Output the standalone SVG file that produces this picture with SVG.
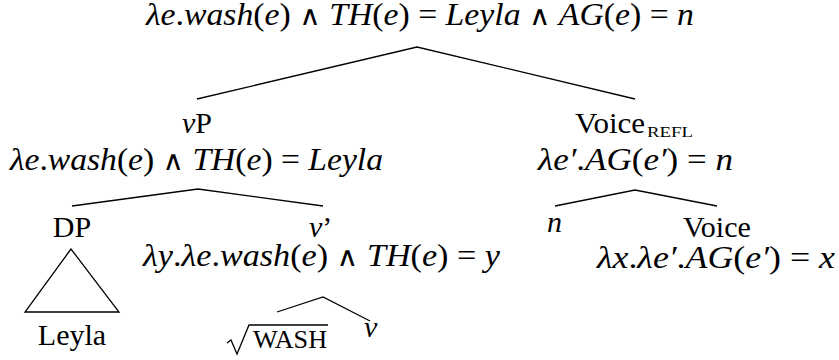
<svg xmlns="http://www.w3.org/2000/svg" width="839" height="360" viewBox="0 0 839 360">
<style>
.t{font-family:"Liberation Serif","Times New Roman",serif;font-size:30px;fill:#000}
.m{font-family:"Liberation Serif","Times New Roman",serif;font-size:31px;fill:#000}
.i{font-family:"Liberation Serif","Times New Roman",serif;font-style:italic}
.w{font-family:"DejaVu Serif",serif;font-size:27px}
.sc{font-size:15px}
.sc2{font-size:25px}
.e{stroke:#000;stroke-width:1.3;fill:none}
</style>
<rect width="839" height="360" fill="#fff"/>
<g id="root">
<text class="m" x="146" y="25" textLength="548" lengthAdjust="spacingAndGlyphs"><tspan class="i">λe</tspan>.<tspan class="i">wash</tspan>(<tspan class="i">e</tspan>) <tspan class="w">∧</tspan> <tspan class="i">TH</tspan>(<tspan class="i">e</tspan>) = <tspan class="i">Leyla</tspan> <tspan class="w">∧</tspan> <tspan class="i">AG</tspan>(<tspan class="i">e</tspan>) = <tspan class="i">n</tspan></text>
</g>
<g id="vP">
<text class="t" x="197" y="133" text-anchor="middle"><tspan class="i">v</tspan>P</text>
<text class="m" x="10" y="170" textLength="373" lengthAdjust="spacingAndGlyphs"><tspan class="i">λe</tspan>.<tspan class="i">wash</tspan>(<tspan class="i">e</tspan>) <tspan class="w">∧</tspan> <tspan class="i">TH</tspan>(<tspan class="i">e</tspan>) = <tspan class="i">Leyla</tspan></text>
</g>
<g id="voiceRefl">
<text class="t" x="575" y="133" textLength="70" lengthAdjust="spacingAndGlyphs">Voice</text>
<text class="t sc" x="647" y="137" textLength="46" lengthAdjust="spacingAndGlyphs">REFL</text>
<text class="m" x="538" y="170" textLength="195" lengthAdjust="spacingAndGlyphs"><tspan class="i">λe′</tspan>.<tspan class="i">AG</tspan>(<tspan class="i">e′</tspan>) = <tspan class="i">n</tspan></text>
</g>
<g id="DP">
<text class="t" x="72" y="237" text-anchor="middle">DP</text>
<polygon class="e" points="71,249 25,312 119,312"/>
<text class="t" x="72" y="345" text-anchor="middle">Leyla</text>
</g>
<g id="vbar">
<text class="t" x="309" y="237"><tspan class="i">v</tspan>’</text>
<text class="m" x="143" y="266" textLength="357" lengthAdjust="spacingAndGlyphs"><tspan class="i">λy</tspan>.<tspan class="i">λe</tspan>.<tspan class="i">wash</tspan>(<tspan class="i">e</tspan>) <tspan class="w">∧</tspan> <tspan class="i">TH</tspan>(<tspan class="i">e</tspan>) = <tspan class="i">y</tspan></text>
</g>
<g id="root-wash">
<polyline class="e" points="227,343 231,340 237,354 249,325 328,325"/>
<text class="t sc2" x="253" y="348" textLength="74" lengthAdjust="spacingAndGlyphs">WASH</text>
</g>
<g id="v">
<text class="t i" x="364" y="337">v</text>
</g>
<g id="n">
<text class="t i" x="547" y="232">n</text>
</g>
<g id="voice">
<text class="t" x="683" y="237">Voice</text>
<text class="m" x="597" y="268" textLength="238" lengthAdjust="spacingAndGlyphs"><tspan class="i">λx</tspan>.<tspan class="i">λe′</tspan>.<tspan class="i">AG</tspan>(<tspan class="i">e′</tspan>) = <tspan class="i">x</tspan></text>
</g>
<g id="connectors">
<polyline class="e" points="197,99 417,47 635,99"/>
<polyline class="e" points="72,206 198,189 323,206"/>
<polyline class="e" points="555,206 635,190 717,206"/>
<polyline class="e" points="277,312 323,297 370,321"/>
</g>
</svg>
